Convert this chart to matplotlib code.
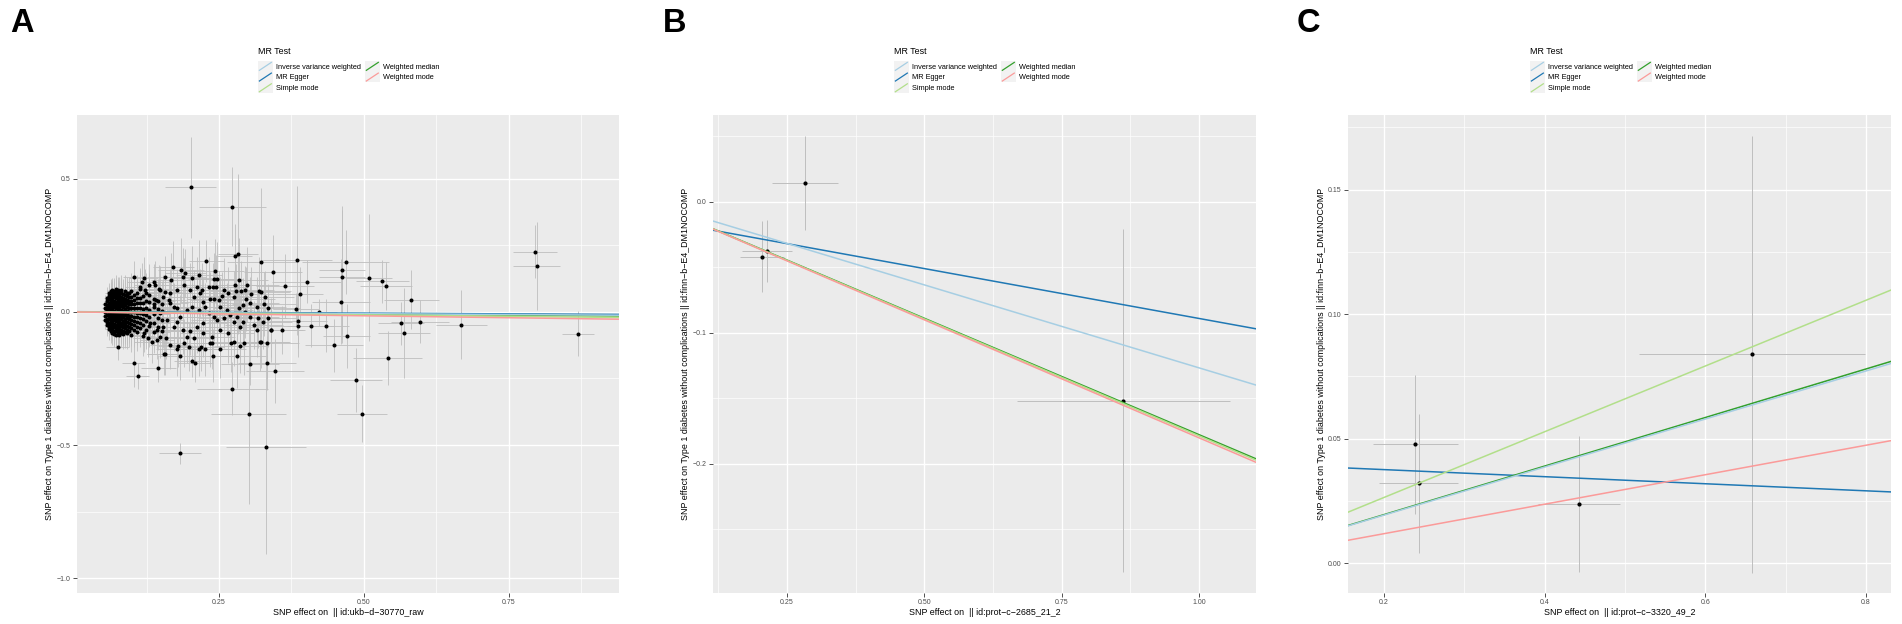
import numpy as np
import matplotlib
matplotlib.use("Agg")
import matplotlib.pyplot as plt
from matplotlib.legend_handler import HandlerBase
from matplotlib.patches import Rectangle
from matplotlib.lines import Line2D

plt.rcParams['font.family'] = ['Liberation Sans', 'DejaVu Sans']

W, H = 1902, 624
MINUS = "\u2212"

methods = ["Inverse variance weighted", "MR Egger", "Simple mode",
           "Weighted median", "Weighted mode"]
method_colors = ["#A6CEE3", "#1F78B4", "#B2DF8A", "#33A02C", "#FB9A99"]
draw_order = ["MR Egger", "Weighted median", "Inverse variance weighted",
              "Simple mode", "Weighted mode"]

ylab = "SNP effect on Type 1 diabetes without complications || id:finn" + MINUS + "b" + MINUS + "E4_DM1NOCOMP"

# ---- panel A : ukb-d-30770_raw ----
a_xlabel = "SNP effect on  || id:ukb" + MINUS + "d" + MINUS + "30770_raw"
# dense cluster of weak instruments: (x, x_se, y_se, [y values])
a_core = [
    (0.054, 0.006, 0.035, [-0.03, -0.015, 0.0, 0.015, 0.03]),
    (0.057, 0.006, 0.040, [-0.05, -0.038, -0.025, -0.012, 0.002, 0.014, 0.027, 0.04, 0.052]),
    (0.060, 0.007, 0.040, [-0.065, -0.052, -0.04, -0.027, -0.015, -0.003, 0.01, 0.022, 0.035, 0.047, 0.06, 0.07]),
    (0.063, 0.007, 0.045, [-0.072, -0.06, -0.047, -0.035, -0.022, -0.01, 0.004, 0.016, 0.029, 0.041, 0.054, 0.066, 0.078]),
    (0.066, 0.008, 0.045, [-0.078, -0.066, -0.053, -0.041, -0.028, -0.016, -0.004, 0.009, 0.021, 0.034, 0.046, 0.059, 0.071, 0.082]),
    (0.069, 0.008, 0.050, [-0.082, -0.07, -0.057, -0.045, -0.032, -0.02, -0.008, 0.005, 0.017, 0.03, 0.042, 0.055, 0.067, 0.079]),
    (0.072, 0.009, 0.050, [-0.085, -0.073, -0.06, -0.048, -0.035, -0.023, -0.011, 0.001, 0.013, 0.026, 0.038, 0.051, 0.063, 0.076, 0.088]),
    (0.075, 0.009, 0.050, [-0.08, -0.067, -0.055, -0.042, -0.03, -0.018, -0.006, 0.007, 0.019, 0.032, 0.044, 0.057, 0.069, 0.082]),
    (0.078, 0.010, 0.055, [-0.086, -0.074, -0.061, -0.049, -0.036, -0.024, -0.012, 0.0, 0.012, 0.025, 0.037, 0.05, 0.062, 0.075]),
    (0.081, 0.010, 0.055, [-0.078, -0.066, -0.053, -0.041, -0.028, -0.016, -0.004, 0.008, 0.021, 0.033, 0.046, 0.058, 0.071, 0.084]),
    (0.084, 0.011, 0.055, [-0.083, -0.07, -0.058, -0.045, -0.033, -0.02, -0.008, 0.004, 0.017, 0.029, 0.042, 0.054, 0.067]),
    (0.087, 0.012, 0.060, [-0.075, -0.062, -0.05, -0.037, -0.025, -0.013, 0.0, 0.012, 0.025, 0.037, 0.05, 0.062, 0.078]),
    (0.091, 0.013, 0.060, [-0.08, -0.066, -0.052, -0.038, -0.024, -0.01, 0.004, 0.018, 0.032, 0.046, 0.06, 0.072]),
    (0.095, 0.014, 0.060, [-0.07, -0.056, -0.042, -0.028, -0.014, 0.0, 0.014, 0.028, 0.042, 0.056, 0.07]),
    (0.099, 0.015, 0.065, [-0.085, -0.062, -0.047, -0.032, -0.017, -0.002, 0.013, 0.028, 0.043, 0.058, 0.08]),
    (0.103, 0.016, 0.065, [-0.068, -0.05, -0.034, -0.018, -0.002, 0.014, 0.03, 0.046, 0.064]),
    (0.108, 0.018, 0.070, [-0.075, -0.056, -0.038, -0.02, -0.003, 0.015, 0.033, 0.051, 0.07]),
    (0.113, 0.020, 0.070, [-0.062, -0.043, -0.024, -0.005, 0.014, 0.033, 0.052, 0.088]),
    (0.118, 0.022, 0.075, [-0.09, -0.05, -0.028, -0.008, 0.012, 0.032, 0.06]),
    (0.124, 0.024, 0.075, [-0.066, -0.035, -0.01, 0.016, 0.042, 0.072]),
    (0.130, 0.026, 0.080, [-0.052, -0.02, 0.008, 0.036, 0.065]),
    (0.137, 0.028, 0.080, [-0.075, -0.04, -0.006, 0.028, 0.05]),
    (0.144, 0.030, 0.085, [-0.058, -0.022, 0.012, 0.04]),
    (0.151, 0.032, 0.085, [-0.07, -0.03, 0.002, 0.03]),
]
# scattered instruments: (x, y, x_se, y_se)
a_mid = [
    (0.171, 0.168, 0.035, 0.10), (0.184, 0.158, 0.040, 0.12), (0.192, 0.148, 0.035, 0.09),
    (0.187, 0.130, 0.040, 0.11), (0.156, 0.130, 0.030, 0.08), (0.167, 0.120, 0.035, 0.10),
    (0.137, 0.112, 0.030, 0.07), (0.104, 0.130, 0.020, 0.06), (0.243, 0.155, 0.050, 0.12),
    (0.246, 0.122, 0.045, 0.14), (0.241, 0.122, 0.045, 0.10), (0.245, 0.095, 0.050, 0.12),
    (0.240, 0.093, 0.040, 0.09), (0.234, 0.050, 0.040, 0.10), (0.241, 0.049, 0.045, 0.08),
    (0.250, 0.045, 0.050, 0.11), (0.256, 0.060, 0.045, 0.09), (0.284, 0.119, 0.050, 0.16),
    (0.277, 0.102, 0.050, 0.12), (0.298, 0.103, 0.055, 0.14), (0.280, 0.080, 0.045, 0.10),
    (0.288, 0.080, 0.050, 0.11), (0.294, 0.083, 0.050, 0.09), (0.297, 0.048, 0.050, 0.12),
    (0.291, 0.026, 0.045, 0.10), (0.285, 0.014, 0.045, 0.09), (0.275, 0.055, 0.045, 0.10),
    (0.319, 0.078, 0.055, 0.13), (0.322, 0.075, 0.050, 0.11), (0.306, 0.068, 0.050, 0.10),
    (0.327, 0.029, 0.055, 0.12), (0.330, 0.055, 0.050, 0.10), (0.334, 0.015, 0.055, 0.09),
    (0.335, -0.023, 0.050, 0.11), (0.340, -0.069, 0.055, 0.12), (0.315, -0.069, 0.050, 0.10),
    (0.310, -0.048, 0.050, 0.09), (0.326, -0.039, 0.050, 0.10), (0.333, -0.118, 0.055, 0.13),
    (0.320, -0.113, 0.050, 0.11), (0.323, -0.112, 0.050, 0.10), (0.293, -0.118, 0.050, 0.12),
    (0.287, -0.128, 0.045, 0.10), (0.271, -0.117, 0.045, 0.11), (0.276, -0.113, 0.045, 0.09),
    (0.238, -0.115, 0.040, 0.10), (0.235, -0.117, 0.040, 0.09), (0.252, -0.138, 0.045, 0.11),
    (0.225, -0.140, 0.040, 0.10), (0.219, -0.133, 0.040, 0.09), (0.215, -0.139, 0.040, 0.10),
    (0.189, -0.118, 0.035, 0.09), (0.177, -0.140, 0.035, 0.10), (0.180, -0.127, 0.035, 0.08),
    (0.166, -0.124, 0.035, 0.09), (0.159, -0.098, 0.030, 0.08), (0.143, -0.105, 0.030, 0.07),
    (0.182, -0.164, 0.035, 0.09), (0.156, -0.158, 0.030, 0.08), (0.200, -0.073, 0.035, 0.09),
    (0.212, -0.055, 0.040, 0.10), (0.223, -0.043, 0.040, 0.09), (0.246, -0.030, 0.045, 0.10),
    (0.258, -0.024, 0.045, 0.11), (0.269, -0.011, 0.045, 0.10), (0.281, -0.018, 0.050, 0.12),
    (0.292, -0.036, 0.050, 0.10), (0.304, -0.018, 0.050, 0.11), (0.206, 0.058, 0.040, 0.10),
    (0.218, 0.070, 0.040, 0.09), (0.200, 0.083, 0.035, 0.10), (0.212, 0.095, 0.040, 0.11),
    (0.223, 0.039, 0.040, 0.09), (0.177, 0.083, 0.035, 0.08), (0.189, 0.102, 0.035, 0.10),
    (0.166, 0.070, 0.035, 0.09), (0.154, 0.058, 0.030, 0.08), (0.149, 0.083, 0.030, 0.09),
    (0.137, 0.020, 0.030, 0.07), (0.149, -0.005, 0.030, 0.08), (0.160, -0.030, 0.030, 0.08),
    (0.172, -0.055, 0.035, 0.09), (0.183, -0.018, 0.035, 0.08), (0.195, 0.008, 0.035, 0.09),
    (0.166, 0.033, 0.030, 0.08), (0.177, 0.014, 0.035, 0.08), (0.154, -0.055, 0.030, 0.08),
    (0.143, -0.068, 0.030, 0.07), (0.131, -0.043, 0.025, 0.07), (0.120, -0.080, 0.025, 0.07),
    (0.142, 0.045, 0.030, 0.08), (0.146, 0.086, 0.030, 0.09), (0.156, 0.075, 0.030, 0.08),
    (0.163, 0.045, 0.030, 0.08), (0.172, 0.020, 0.035, 0.09), (0.178, -0.036, 0.035, 0.08),
    (0.188, -0.068, 0.035, 0.09), (0.195, -0.093, 0.035, 0.10), (0.149, -0.093, 0.030, 0.08),
    (0.134, -0.112, 0.030, 0.08), (0.127, -0.099, 0.025, 0.07), (0.123, 0.083, 0.025, 0.08),
    (0.129, 0.102, 0.025, 0.08), (0.140, 0.102, 0.030, 0.09), (0.117, 0.114, 0.025, 0.07),
    (0.113, 0.095, 0.025, 0.07), (0.120, 0.127, 0.025, 0.08), (0.203, 0.020, 0.035, 0.09),
    (0.215, 0.008, 0.040, 0.10), (0.226, 0.020, 0.040, 0.09), (0.232, -0.005, 0.040, 0.10),
    (0.252, 0.020, 0.045, 0.11), (0.264, 0.008, 0.045, 0.10), (0.275, -0.036, 0.045, 0.11),
    (0.287, -0.055, 0.050, 0.12), (0.252, -0.068, 0.045, 0.10), (0.266, -0.080, 0.045, 0.11),
    (0.238, -0.093, 0.040, 0.10), (0.223, -0.080, 0.040, 0.09), (0.206, -0.099, 0.035, 0.10),
    (0.198, -0.130, 0.035, 0.09), (0.241, -0.018, 0.040, 0.09), (0.258, 0.083, 0.045, 0.12),
    (0.266, 0.070, 0.045, 0.10), (0.232, 0.095, 0.040, 0.11), (0.221, 0.083, 0.040, 0.10),
    (0.203, 0.127, 0.035, 0.12), (0.215, 0.139, 0.040, 0.13), (0.315, 0.020, 0.050, 0.11),
    (0.304, 0.033, 0.050, 0.10), (0.318, -0.024, 0.050, 0.11), (0.295, 0.001, 0.050, 0.10),
]
a_out = [
    (0.201, 0.469, 0.044, 0.19), (0.273, 0.396, 0.058, 0.15), (0.795, 0.226, 0.038, 0.10),
    (0.798, 0.173, 0.040, 0.165), (0.277, 0.210, 0.030, 0.12), (0.283, 0.218, 0.035, 0.30),
    (0.228, 0.192, 0.030, 0.08), (0.323, 0.187, 0.060, 0.28), (0.385, 0.195, 0.060, 0.28),
    (0.469, 0.188, 0.075, 0.12), (0.462, 0.157, 0.040, 0.24), (0.462, 0.132, 0.040, 0.25),
    (0.508, 0.129, 0.040, 0.24), (0.532, 0.115, 0.045, 0.08), (0.538, 0.098, 0.045, 0.09),
    (0.582, 0.046, 0.047, 0.11), (0.343, 0.150, 0.050, 0.14), (0.363, 0.099, 0.050, 0.12),
    (0.401, 0.114, 0.060, 0.08), (0.390, 0.069, 0.040, 0.10), (0.461, 0.039, 0.050, 0.16),
    (0.383, 0.011, 0.040, 0.06), (0.423, -0.001, 0.030, 0.05), (0.386, -0.035, 0.050, 0.10),
    (0.386, -0.051, 0.050, 0.12), (0.408, -0.051, 0.040, 0.08), (0.434, -0.051, 0.040, 0.10),
    (0.668, -0.048, 0.044, 0.13), (0.564, -0.043, 0.040, 0.08), (0.569, -0.080, 0.045, 0.17),
    (0.597, -0.036, 0.050, 0.08), (0.869, -0.082, 0.028, 0.085), (0.449, -0.125, 0.050, 0.10),
    (0.470, -0.092, 0.040, 0.12), (0.541, -0.173, 0.060, 0.10), (0.487, -0.257, 0.045, 0.12),
    (0.497, -0.383, 0.043, 0.107), (0.301, -0.383, 0.065, 0.34), (0.331, -0.509, 0.069, 0.40),
    (0.183, -0.531, 0.036, 0.04), (0.273, -0.288, 0.061, 0.10), (0.347, -0.223, 0.050, 0.12),
    (0.332, -0.192, 0.050, 0.10), (0.304, -0.195, 0.050, 0.08), (0.203, -0.184, 0.030, 0.06),
    (0.209, -0.193, 0.030, 0.07), (0.145, -0.212, 0.030, 0.05), (0.103, -0.191, 0.020, 0.09),
    (0.110, -0.241, 0.020, 0.05), (0.155, -0.158, 0.030, 0.08), (0.075, -0.132, 0.020, 0.05),
    (0.239, -0.164, 0.040, 0.10), (0.281, -0.167, 0.050, 0.12), (0.339, -0.069, 0.050, 0.10),
    (0.359, -0.068, 0.040, 0.09),
]
# MR estimates (slope, intercept)
a_fit = {"Inverse variance weighted": (-0.013, 0.0), "MR Egger": (-0.011, 0.001),
         "Simple mode": (-0.022, 0.0), "Weighted median": (-0.016, 0.0),
         "Weighted mode": (-0.029, 0.0)}

# ---- panel B : prot-c-2685_21_2 ----
b_xlabel = "SNP effect on  || id:prot" + MINUS + "c" + MINUS + "2685_21_2"
b_x = [0.282, 0.2045, 0.213, 0.862]
b_y = [0.0143, -0.0417, -0.0374, -0.1517]
b_xse = [0.060, 0.040, 0.045, 0.194]
b_yse = [0.0357, 0.027, 0.024, 0.131]
b_fit = {"Inverse variance weighted": (-0.1266, 0.0), "MR Egger": (-0.0761, -0.0128),
         "Simple mode": (-0.1785, 0.0), "Weighted median": (-0.1776, 0.0),
         "Weighted mode": (-0.1800, 0.0)}

# ---- panel C : prot-c-3320_49_2 ----
c_xlabel = "SNP effect on  || id:prot" + MINUS + "c" + MINUS + "3320_49_2"
c_x = [0.239, 0.243, 0.4426, 0.658]
c_y = [0.0477, 0.0321, 0.0238, 0.0838]
c_xse = [0.0524, 0.049, 0.0515, 0.1405]
c_yse = [0.0278, 0.028, 0.0272, 0.0877]
c_fit = {"Inverse variance weighted": (0.0965, 0.0), "MR Egger": (-0.0142, 0.0404),
         "Simple mode": (0.132, 0.0), "Weighted median": (0.0975, 0.0),
         "Weighted mode": (0.0592, 0.0)}


class AblineKey(HandlerBase):
    def create_artists(self, legend, orig_handle, xdescent, ydescent,
                       width, height, fontsize, trans):
        bg = Rectangle((-xdescent, -ydescent), width, height, facecolor="#F2F2F2",
                       edgecolor="none", transform=trans)
        ln = Line2D([-xdescent + 1, -xdescent + width - 1],
                    [-ydescent + 1, -ydescent + height - 1],
                    color=orig_handle.get_color(), lw=0.9, transform=trans)
        return [bg, ln]


def px_axes(l, r, t, b):
    return [l / W, 1 - b / H, (r - l) / W, (b - t) / H]


def style(ax, xlim, ylim, xt, xtl, yt, ytl, xminor, yminor, xlabel):
    ax.set_facecolor("#EBEBEB")
    for s in ax.spines.values():
        s.set_visible(False)
    ax.set_xlim(*xlim)
    ax.set_ylim(*ylim)
    ax.set_xticks(xt)
    ax.set_xticklabels(xtl)
    ax.set_yticks(yt)
    ax.set_yticklabels(ytl)
    ax.set_xticks(xminor, minor=True)
    ax.set_yticks(yminor, minor=True)
    ax.grid(True, which="major", color="white", lw=1.0)
    ax.grid(True, which="minor", color="white", lw=0.5)
    ax.set_axisbelow(True)
    ax.tick_params(which="major", length=3, width=0.6, color="#333333",
                   labelcolor="#4D4D4D", labelsize=5.0, pad=1.5)
    ax.tick_params(which="minor", length=0)
    ax.set_xlabel(xlabel, fontsize=6.4, labelpad=1.2)
    ax.set_ylabel(ylab, fontsize=6.4, labelpad=1.8)


def draw_fits(ax, fit):
    lines = {}
    for m in draw_order:
        slope, icpt = fit[m]
        lines[m] = ax.axline((0, icpt), slope=slope, color=method_colors[methods.index(m)],
                             lw=1.1, zorder=4)
    return [lines[m] for m in methods]


def add_legend(ax, handles, key_left):
    fig = ax.figure
    fig.text(key_left / W, 1 - 52 / H, "MR Test", fontsize=6.4, ha="left", va="center")
    ax.legend(handles, methods, ncol=2, loc="upper left",
              bbox_to_anchor=(key_left / W, 1 - 61 / H), bbox_transform=fig.transFigure,
              frameon=False, fontsize=5.3, borderpad=0, borderaxespad=0,
              handlelength=2.0, handleheight=1.86, labelspacing=0,
              handletextpad=0.5, columnspacing=0.5,
              handler_map={h: AblineKey() for h in handles})


fig = plt.figure(figsize=(W / 100, H / 100), dpi=100)

# panel A
axA = fig.add_axes(px_axes(77, 619, 115, 593))
ax_x, ax_y, ax_sx, ax_sy = [], [], [], []
for x, sx, sy, ys in a_core:
    for y in ys:
        ax_x.append(x); ax_y.append(y); ax_sx.append(sx); ax_sy.append(sy)
for grp in (a_mid, a_out):
    for x, y, sx, sy in grp:
        ax_x.append(x); ax_y.append(y); ax_sx.append(sx); ax_sy.append(sy)
axA.errorbar(ax_x, ax_y, xerr=ax_sx, yerr=ax_sy, fmt="none", ecolor="#BEBEBE",
             elinewidth=0.6, capsize=0, zorder=2)
axA.plot(ax_x, ax_y, "o", color="black", ms=2.9, mew=0, zorder=3)
hA = draw_fits(axA, a_fit)
style(axA, (0.005, 0.94), (-1.056, 0.74), [0.25, 0.5, 0.75], ["0.25", "0.50", "0.75"],
      [-1.0, -0.5, 0.0, 0.5], [MINUS + "1.0", MINUS + "0.5", "0.0", "0.5"],
      [0.125, 0.375, 0.625, 0.875], [-0.75, -0.25, 0.25], a_xlabel)
add_legend(axA, hA, 258)

# panel B
axB = fig.add_axes(px_axes(713, 1256, 115, 593))
axB.errorbar(b_x, b_y, xerr=b_xse, yerr=b_yse, fmt="none", ecolor="#BEBEBE",
             elinewidth=0.7, capsize=0, zorder=2)
axB.plot(b_x, b_y, "o", color="black", ms=3.0, mew=0, zorder=3)
hB = draw_fits(axB, b_fit)
style(axB, (0.115, 1.104), (-0.2985, 0.0664), [0.25, 0.5, 0.75, 1.0],
      ["0.25", "0.50", "0.75", "1.00"], [-0.2, -0.1, 0.0],
      [MINUS + "0.2", MINUS + "0.1", "0.0"], [0.125, 0.375, 0.625, 0.875],
      [-0.25, -0.15, -0.05, 0.05], b_xlabel)
add_legend(axB, hB, 894)

# panel C
axC = fig.add_axes(px_axes(1348, 1891, 115, 593))
axC.errorbar(c_x, c_y, xerr=c_xse, yerr=c_yse, fmt="none", ecolor="#BEBEBE",
             elinewidth=0.7, capsize=0, zorder=2)
axC.plot(c_x, c_y, "o", color="black", ms=3.0, mew=0, zorder=3)
hC = draw_fits(axC, c_fit)
style(axC, (0.155, 0.831), (-0.012, 0.180), [0.2, 0.4, 0.6, 0.8],
      ["0.2", "0.4", "0.6", "0.8"], [0.0, 0.05, 0.10, 0.15],
      ["0.00", "0.05", "0.10", "0.15"], [0.3, 0.5, 0.7],
      [0.025, 0.075, 0.125, 0.175], c_xlabel)
add_legend(axC, hC, 1530)

for letter, lx in (("A", 10), ("B", 663), ("C", 1297)):
    fig.text(lx / W, 1 - 32 / H, letter, fontsize=23.5, fontweight="bold",
             ha="left", va="baseline")

fig.savefig("out.png", dpi=100)
